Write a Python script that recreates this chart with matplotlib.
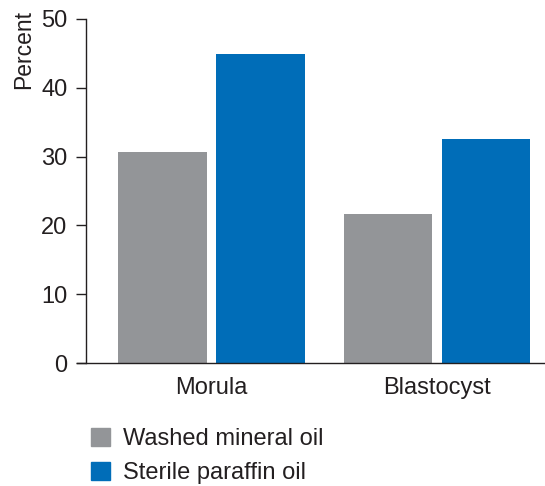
import numpy as np
import matplotlib.pyplot as plt
from matplotlib.patches import Patch

plt.rcParams['font.family'] = ['Liberation Sans', 'DejaVu Sans']

categories = ["Morula", "Blastocyst"]
series_names = ["Washed mineral oil", "Sterile paraffin oil"]
washed = [30.7, 21.7]
sterile = [44.9, 32.6]
yticks = [0, 10, 20, 30, 40, 50]

gray = "#939598"
blue = "#006db8"
txt = "#231f20"

fig = plt.figure(figsize=(5.45, 4.86), dpi=100)
ax = fig.add_axes([0.1587, 0.253, 0.8413, 0.708])

x = np.arange(len(categories))
w = 0.393
off = 0.2175
ax.bar(x - off, washed, w, color=gray)
ax.bar(x + off, sterile, w, color=blue)

ax.set_xlim(-0.556, 1.48)
ax.set_ylim(0, 50)
ax.set_yticks(yticks)
ax.set_xticks(x)
ax.set_xticklabels(categories)

for s in ["top", "right"]:
    ax.spines[s].set_visible(False)
for s in ["left", "bottom"]:
    ax.spines[s].set_color(txt)
    ax.spines[s].set_linewidth(1.0)
ax.spines["bottom"].set_bounds(-0.598, 1.48)
ax.spines["bottom"].set_clip_on(False)

ax.tick_params(axis="y", length=7.2, width=1.0, color=txt, pad=6.5,
               labelsize=17, labelcolor=txt)
ax.tick_params(axis="x", length=0, pad=10, labelsize=17, labelcolor=txt)

fig.text(24 / 545, 1 - 10 / 486, "Percent", rotation=90, ha="center",
         va="top", fontsize=16.5, color=txt)

handles = [Patch(color=gray), Patch(color=blue)]
fig.legend(handles, series_names, loc="upper left",
           bbox_to_anchor=(91 / 545, 1 - 428 / 486), frameon=False,
           borderpad=0, borderaxespad=0,
           fontsize=17, handlelength=0.8, handleheight=0.8,
           handletextpad=0.55, labelspacing=0.48, labelcolor=txt)

fig.savefig("out.png", dpi=100)
